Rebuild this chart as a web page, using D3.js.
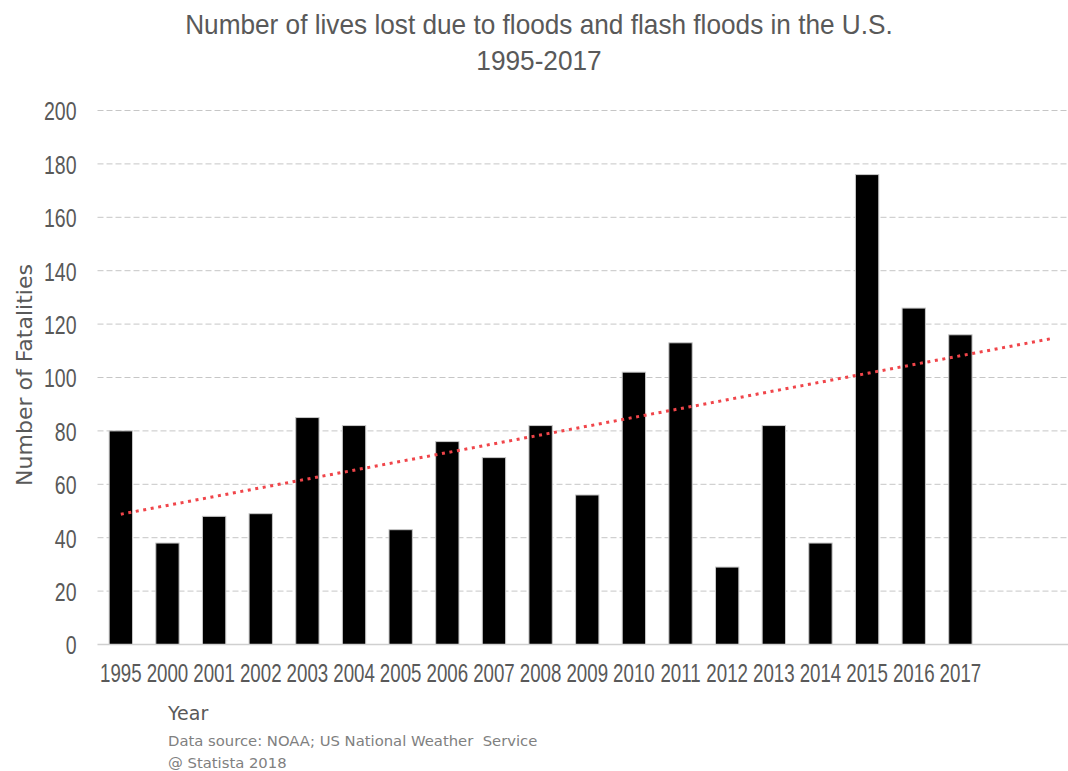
<!DOCTYPE html>
<html>
<head>
<meta charset="utf-8">
<script src="https://cdn.jsdelivr.net/npm/d3@7"></script>
<style>
  body { margin: 0; background: #fff; }
  svg { display: block; }
  .narrow { font-family: "Liberation Sans", Arial, sans-serif; }
</style>
</head>
<body>
<svg width="1068" height="771"></svg>
<script>
// data
let years = ["1995","2000","2001","2002","2003","2004","2005","2006","2007","2008",
             "2009","2010","2011","2012","2013","2014","2015","2016","2017"];
let fatalities = [80,38,48,49,85,82,43,76,70,82,56,102,113,29,82,38,176,126,116];
let yTicks = [0,20,40,60,80,100,120,140,160,180,200];
let forward = ["f1","f2"];   // trendline forecast periods (no bars)

let svg = d3.select("svg"),
    width = +svg.attr("width"),
    height = +svg.attr("height");

let plotL = 97.5, plotR = 1077, plotT = 110.5, plotB = 644.5;

// squeeze text horizontally to mimic a narrow face
function squeeze(sel, ratio) {
  sel.each(function() {
    let t = d3.select(this);
    let x0 = +t.attr("x") || 0;
    t.attr("x", x0 / ratio).attr("transform", "scale(" + ratio + ",1)");
  });
}

let x = d3.scaleBand()
    .domain(years.concat(forward))
    .range([plotL, plotR])
    .paddingInner(0.5)
    .paddingOuter(0.25);

let y = d3.scaleLinear()
    .domain([0, 200])
    .range([plotB, plotT]);

// title
let t1 = svg.append("text")
    .attr("class", "narrow")
    .attr("x", 539).attr("y", 34)
    .attr("text-anchor", "middle")
    .style("font-size", "27px")
    .style("fill", "#595959")
    .text("Number of lives lost due to floods and flash floods in the U.S.");
let titleRatio = 708 / t1.node().getComputedTextLength();
squeeze(t1, titleRatio);
let t2 = svg.append("text")
    .attr("class", "narrow")
    .attr("x", 539).attr("y", 70)
    .attr("text-anchor", "middle")
    .style("font-size", "27px")
    .style("fill", "#595959")
    .text("1995-2017");
squeeze(t2, titleRatio);

// gridlines
svg.append("g")
    .selectAll("line")
    .data(yTicks.filter(function(d) { return d > 0; }))
    .enter().append("line")
      .attr("x1", plotL).attr("x2", width)
      .attr("y1", function(d) { return y(d); })
      .attr("y2", function(d) { return y(d); })
      .style("stroke", "#c6c6c6")
      .style("stroke-width", 1)
      .style("stroke-dasharray", "6,3");

// y axis labels
let yAxis = svg.append("g")
    .attr("transform", "translate(" + plotL + ",0)")
    .call(d3.axisLeft(y).tickValues(yTicks).tickSize(0).tickPadding(21));
yAxis.select(".domain").remove();
yAxis.attr("font-family", null).attr("font-size", null);
yAxis.selectAll("text")
    .attr("class", "narrow")
    .attr("dy", "0.36em")
    .style("font-size", "26px")
    .style("fill", "#595959")
    .call(squeeze, 0.75);

// bars
svg.append("g")
    .selectAll("rect")
    .data(years)
    .enter().append("rect")
      .attr("x", function(d) { return x(d); })
      .attr("width", x.bandwidth())
      .attr("y", function(d, i) { return y(fatalities[i]); })
      .attr("height", function(d, i) { return y(0) - y(fatalities[i]); })
      .style("fill", "#000")
      .style("stroke", "#c8c8c8")
      .style("stroke-width", 1);

// baseline
svg.append("line")
    .attr("x1", plotL).attr("x2", width)
    .attr("y1", y(0)).attr("y2", y(0))
    .style("stroke", "#d0d0d0")
    .style("stroke-width", 1.5);

// x axis labels
let xAxis = svg.append("g")
    .attr("transform", "translate(0," + y(0) + ")")
    .call(d3.axisBottom(x).tickValues(years).tickSize(0).tickPadding(19));
xAxis.select(".domain").remove();
xAxis.attr("font-family", null).attr("font-size", null);
xAxis.selectAll("text")
    .attr("class", "narrow")
    .attr("dy", "0.71em")
    .style("font-size", "26px")
    .style("fill", "#595959")
    .call(squeeze, 0.72);

// linear trendline (least squares on category index), 2 periods forward
let mx = d3.mean(fatalities, function(d, i) { return i; });
let my = d3.mean(fatalities);
let sxy = d3.sum(fatalities, function(d, i) { return (i - mx) * (d - my); });
let sxx = d3.sum(fatalities, function(d, i) { return (i - mx) * (i - mx); });
let slope = sxy / sxx, icpt = my - slope * mx;
let allCats = years.concat(forward);
let trend = [allCats[0], allCats[allCats.length - 1]].map(function(c) {
  let i = allCats.indexOf(c);
  return { x: x(c) + x.bandwidth() / 2, v: icpt + slope * i };
});
svg.append("path")
    .datum(trend)
    .attr("d", d3.line().x(function(d) { return d.x; }).y(function(d) { return y(d.v); }))
    .style("fill", "none")
    .style("stroke", "#f0454a")
    .style("stroke-width", 3)
    .style("stroke-dasharray", "3,4.6");

// axis titles and notes
svg.append("text")
    .attr("transform", "translate(32,375) rotate(-90)")
    .attr("text-anchor", "middle")
    .style("font-family", "'DejaVu Sans', Verdana, sans-serif")
    .style("font-size", "22px")
    .style("fill", "#595959")
    .text("Number of Fatalities");

svg.append("text")
    .attr("x", 168).attr("y", 720)
    .style("font-family", "'DejaVu Sans', Verdana, sans-serif")
    .style("font-size", "19px")
    .style("fill", "#595959")
    .text("Year");
svg.append("text")
    .attr("x", 168).attr("y", 746)
    .attr("xml:space", "preserve")
    .style("font-family", "'DejaVu Sans', Verdana, sans-serif")
    .style("font-size", "14.8px")
    .style("fill", "#808080")
    .text("Data source: NOAA; US National Weather  Service");
svg.append("text")
    .attr("x", 168).attr("y", 768)
    .style("font-family", "'DejaVu Sans', Verdana, sans-serif")
    .style("font-size", "14.8px")
    .style("fill", "#808080")
    .text("@ Statista 2018");
</script>
</body>
</html>
